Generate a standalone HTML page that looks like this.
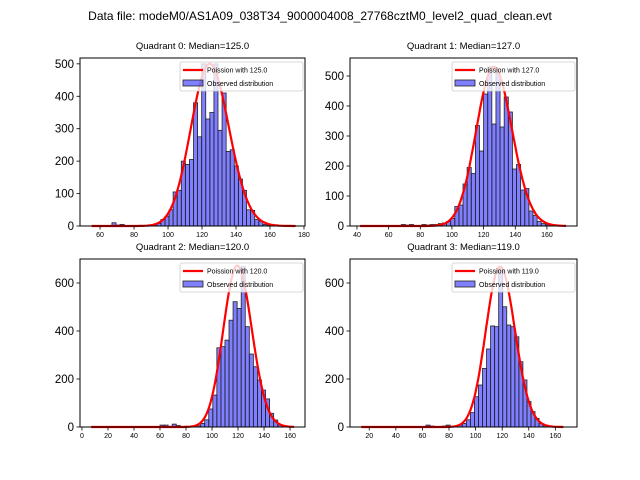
<!DOCTYPE html>
<html><head><meta charset="utf-8"><style>
body{margin:0;background:#fff;}
svg{display:block;font-family:"Liberation Sans","DejaVu Sans",sans-serif;}
</style></head><body>
<svg id="fig" width="640" height="480">
<text x="320" y="20" font-size="12" text-anchor="middle">Data file: modeM0/AS1A09_038T34_9000004008_27768cztM0_level2_quad_clean.evt</text>
</svg>
<script>
const q0Counts=[0,0,0,0,0,10,3,5,0,1,0,1,1,2,3,5,8,20,30,50,105,110,200,190,205,380,275,500,330,350,500,295,410,230,235,185,145,110,50,48,20,15,5,3,1,0,0,0,0,1];
const q1Counts=[0,0,0,0,0,1,0,0,2,2,5,3,5,2,2,5,3,5,5,8,10,15,25,65,70,140,195,175,335,250,440,530,340,510,330,430,380,190,205,120,125,50,35,15,8,4,2,1,0,1];
const q2Counts=[0,0,0,0,0,0,0,2,0,0,0,0,0,0,0,0,0,8,8,3,12,6,2,3,2,3,5,15,30,75,133,330,335,362,445,522,494,668,418,304,251,196,154,117,57,29,8,2,0,1];
const q3Counts=[0,0,0,0,0,0,0,0,0,1,0,0,0,0,0,0,8,4,0,0,4,8,3,2,8,15,30,60,126,175,244,325,421,418,665,501,425,418,376,272,196,106,64,36,15,5,2,0,0,1];
const binStarts=[55,42,7,14];
const binWidths=[2.4,2.6,3.12,3.04];
const medians=[125.0,127.0,120.0,119.0];
const curvePeaks=[500,530,672,668];
const xTicks=[[60,80,100,120,140,160,180],[40,60,80,100,120,140,160],[0,20,40,60,80,100,120,140,160],[20,40,60,80,100,120,140,160]];
const yTicks=[[0,100,200,300,400,500],[0,100,200,300,400,500],[0,200,400,600],[0,200,400,600]];
const xLims=[[48.2,180.6],[35.6,179],[-1.5,171.5],[5.5,176.3]];
const yMaxes=[518,560,700,700];
const allCounts=[q0Counts,q1Counts,q2Counts,q3Counts];
const boxes=[[80,58,225,168],[350,58,227,168],[80,259,225,168],[350,259,227,168]];
const NS='http://www.w3.org/2000/svg';
const svg=document.getElementById('fig');
function mk(tag,attrs,parent){const e=document.createElementNS(NS,tag);for(const k in attrs)e.setAttribute(k,attrs[k]);(parent||svg).appendChild(e);return e;}
function logPmf(k,mu){let lf=0;for(let i=2;i<=k;i++)lf+=Math.log(i);return k*Math.log(mu)-mu-lf;}
for(let q=0;q<4;q++){
 const [bx,by,bw,bh]=boxes[q];const counts=allCounts[q];
 const [x0,x1]=xLims[q];const ym=yMaxes[q];
 const X=v=>bx+(v-x0)/(x1-x0)*bw;const Y=v=>by+bh-v/ym*bh;
 const g=mk('g',{});
 
 
 const t=mk('text',{x:bx+bw/2,y:by-9,'font-size':'9.5','text-anchor':'middle'},g);
 t.textContent='Quadrant '+q+': Median='+medians[q].toFixed(1);
 
 
 const w=binWidths[q],s=binStarts[q];
 counts.forEach((c,i)=>{if(c<=0)return;
  const r=mk('rect',{x:X(s+i*w),y:Y(c),width:X(s+(i+1)*w)-X(s+i*w),height:Y(0)-Y(c),fill:'rgba(0,0,255,0.5)',stroke:'#222','stroke-width':'0.8'},g);
  
  });
 const mu=medians[q];let pts=[];
 const kmin=Math.ceil(s),kmax=Math.floor(s+counts.length*w);
 const pmax=Math.exp(logPmf(Math.floor(mu),mu));
 for(let k=kmin;k<=kmax;k++){pts.push(X(k).toFixed(1)+','+Y(curvePeaks[q]*Math.exp(logPmf(k,mu))/pmax).toFixed(1));}
 const pl=mk('polyline',{points:pts.join(' '),fill:'none',stroke:'#ff0000','stroke-width':'2.2'},g);
 
 
 const ax=mk('rect',{x:bx,y:by,width:bw,height:bh,fill:'none',stroke:'#000','stroke-width':'1'},g);
 
 
 xTicks[q].forEach(v=>{const px=X(v);mk('line',{x1:px,x2:px,y1:by+bh,y2:by+bh+3.5,stroke:'#000','stroke-width':'0.8'},g);
  const tl=mk('text',{x:px,y:by+bh+11,'font-size':'7','text-anchor':'middle'},g);tl.textContent=v;
  
  });
 yTicks[q].forEach(v=>{const py=Y(v);mk('line',{x1:bx-3.5,x2:bx,y1:py,y2:py,stroke:'#000','stroke-width':'0.8'},g);
  const tl=mk('text',{x:bx-6,y:py+4,'font-size':'11.5','text-anchor':'end'},g);tl.textContent=v;
  
  });
 const lx=bx+bw-125,ly=by+4;
 const lg=mk('g',{},g);
 
 
 mk('rect',{x:lx,y:ly,width:123,height:29,fill:'rgba(255,255,255,0.8)',stroke:'#ccc','stroke-width':'0.8',rx:2},lg);
 mk('line',{x1:lx+3,x2:lx+23,y1:ly+8,y2:ly+8,stroke:'#ff0000','stroke-width':'2.2'},lg);
 const l1=mk('text',{x:lx+27,y:ly+10.5,'font-size':'7'},lg);l1.textContent='Poission with '+mu.toFixed(1);
 
 
 mk('rect',{x:lx+3,y:ly+18,width:20,height:6,fill:'rgba(0,0,255,0.5)',stroke:'#222','stroke-width':'0.8'},lg);
 const l2=mk('text',{x:lx+27,y:ly+24,'font-size':'7'},lg);l2.textContent='Observed distribution';
 
 
}
</script>
</body></html>
